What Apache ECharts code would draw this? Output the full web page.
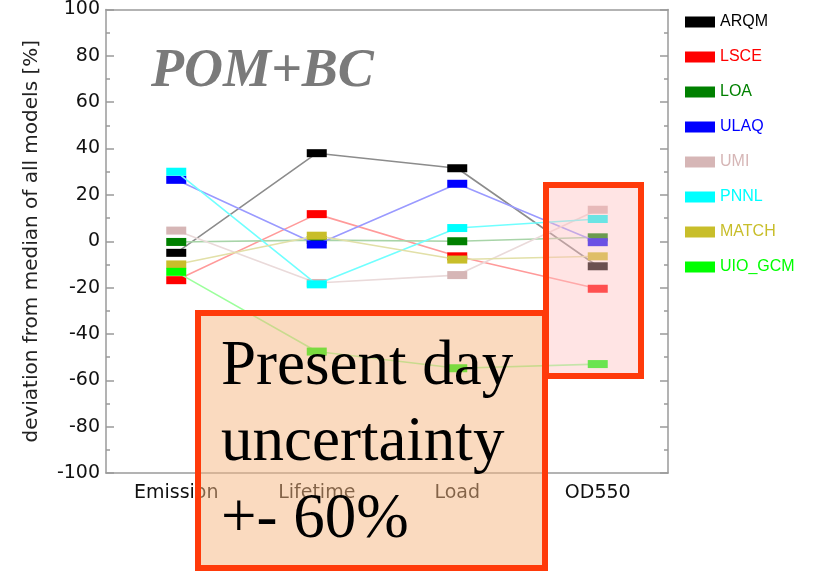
<!DOCTYPE html>
<html>
<head>
<meta charset="utf-8">
<script src="https://cdn.jsdelivr.net/npm/echarts@6/dist/echarts.min.js"></script>
<style>html,body{margin:0;padding:0;background:#fff;}#c{width:823px;height:574px;}</style>
</head>
<body>
<div id="c"></div>
<script>
const categories = ['Emission', 'Lifetime', 'Load', 'OD550'];
const yTicks = { min: -100, max: 100, interval: 20 };
const modelNames = ['ARQM', 'LSCE', 'LOA', 'ULAQ', 'UMI', 'PNNL', 'MATCH', 'UIO_GCM'];
const ARQM    = [-5, 38, 31.5, -10.8];
const LSCE    = [-16.8, 11.7, -6.5, -20.5];
const LOA     = [-0.3, 0.5, 0, 1.7];
const ULAQ    = [26.5, -1.4, 24.8, -0.4];
const UMI     = [4.6, -18, -14.6, 13.6];
const PNNL    = [30, -18.6, 5.7, 9.6];
const MATCH   = [-10, 2.4, -7.9, -6.5];
const UIO_GCM = [-13.2, -47.6, -54.8, -53];
const seriesValues = [ARQM, LSCE, LOA, ULAQ, UMI, PNNL, MATCH, UIO_GCM];
const markerColors = ['#000000', '#ff0000', '#008000', '#0000ff', '#d6b6b6', '#00ffff', '#c8be2a', '#00ff00'];
const lineColors   = ['#8c8c8c', '#ff9a9a', '#a8d4a8', '#9a9aff', '#eadada', '#70ffff', '#e2e0a8', '#9cff9c'];

const chart = echarts.init(document.getElementById('c'), null, { renderer: 'canvas' });
const axisColor = '#9a9a9a';
const labelFont = { fontFamily: 'DejaVu Sans', fontSize: 19, color: '#111' };

const option = {
  animation: false,
  backgroundColor: '#ffffff',
  title: {
    text: 'POM+BC',
    left: 146, top: 40,
    textStyle: { fontFamily: 'Liberation Serif', fontStyle: 'italic', fontWeight: 'bold', fontSize: 54, color: '#7a7a7a' }
  },
  grid: { left: 106, right: 155, top: 8, bottom: 101 },
  legend: {
    orient: 'vertical', left: 685, top: 14, padding: 0,
    icon: 'rect', itemWidth: 30, itemHeight: 11, itemGap: 19,
    textStyle: { fontFamily: 'Liberation Sans', fontSize: 16, lineHeight: 16 },
    data: modelNames.map((n, i) => ({ name: n, textStyle: { color: markerColors[i] } }))
  },
  xAxis: [
    {
      type: 'category', data: categories, position: 'bottom', boundaryGap: true,
      axisLine: { onZero: false, lineStyle: { color: axisColor, width: 1.5 } },
      axisTick: { alignWithLabel: true, inside: true, length: 7, lineStyle: { color: axisColor, width: 1.5 } },
      axisLabel: Object.assign({ margin: 11 }, labelFont),
      splitLine: { show: false }
    },
    {
      type: 'category', data: categories, position: 'top', boundaryGap: true,
      axisLine: { onZero: false, lineStyle: { color: axisColor, width: 1.5 } },
      axisTick: { alignWithLabel: true, inside: true, length: 7, lineStyle: { color: axisColor, width: 1.5 } },
      axisLabel: { show: false },
      splitLine: { show: false }
    }
  ],
  yAxis: [
    {
      type: 'value', min: yTicks.min, max: yTicks.max, interval: yTicks.interval, position: 'left',
      name: 'deviation from median of all models [%]', nameLocation: 'middle', nameGap: 64,
      nameTextStyle: { fontFamily: 'DejaVu Sans', fontSize: 20, color: '#222' },
      axisLine: { show: true, onZero: false, lineStyle: { color: axisColor, width: 1.5 } },
      axisTick: { show: true, inside: true, length: 8, lineStyle: { color: axisColor, width: 1.5 } },
      minorTick: { show: true, splitNumber: 2, length: 4, lineStyle: { color: axisColor, width: 1.5 } },
      axisLabel: Object.assign({ margin: 6 }, labelFont),
      splitLine: { show: false }
    },
    {
      type: 'value', min: yTicks.min, max: yTicks.max, interval: yTicks.interval, position: 'right',
      axisLine: { show: true, onZero: false, lineStyle: { color: axisColor, width: 1.5 } },
      axisTick: { show: true, inside: true, length: 8, lineStyle: { color: axisColor, width: 1.5 } },
      minorTick: { show: true, splitNumber: 2, length: 4, lineStyle: { color: axisColor, width: 1.5 } },
      axisLabel: { show: false },
      splitLine: { show: false }
    }
  ],
  series: modelNames.map((n, i) => ({
    name: n, type: 'line', data: seriesValues[i],
    xAxisIndex: 0, yAxisIndex: 0,
    symbol: 'rect', symbolSize: [20, 8], showAllSymbol: true,
    itemStyle: { color: markerColors[i] },
    lineStyle: { color: lineColors[i], width: 1.6 },
    z: 2 + i
  })),
  graphic: [
    {
      type: 'rect', z: 100,
      shape: { x: 546, y: 185, width: 95, height: 191 },
      style: { fill: 'rgba(255,190,190,0.42)', stroke: '#ff3a0a', lineWidth: 6 }
    },
    {
      type: 'rect', z: 101,
      shape: { x: 198, y: 313, width: 347, height: 255 },
      style: { fill: 'rgba(246,182,128,0.5)', stroke: '#ff3a0a', lineWidth: 6 }
    },
    {
      type: 'text', z: 102, x: 221, y: 367,
      style: { text: 'Present day', font: '63px "Liberation Serif"', fill: '#000', verticalAlign: 'middle' }
    },
    {
      type: 'text', z: 102, x: 221, y: 443,
      style: { text: 'uncertainty', font: '63px "Liberation Serif"', fill: '#000', verticalAlign: 'middle' }
    },
    {
      type: 'text', z: 102, x: 221, y: 520,
      style: { text: '+- 60%', font: '63px "Liberation Serif"', fill: '#000', verticalAlign: 'middle' }
    }
  ]
};
chart.setOption(option);
</script>
</body>
</html>
